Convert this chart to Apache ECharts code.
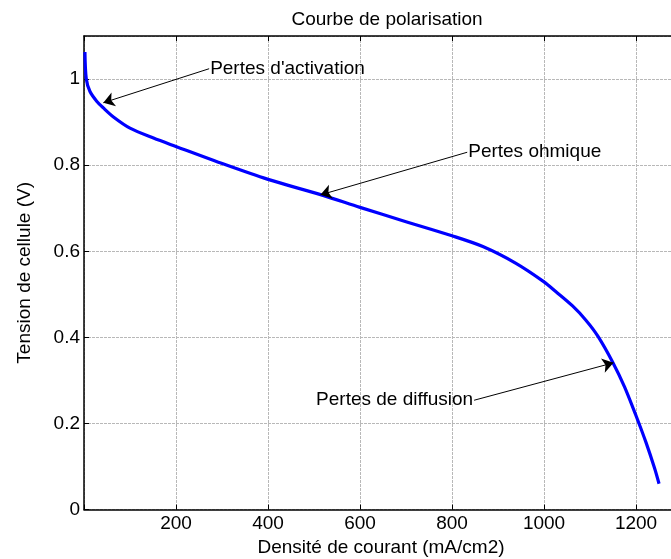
<!DOCTYPE html>
<html>
<head>
<meta charset="utf-8">
<script src="https://cdn.jsdelivr.net/npm/echarts@6/dist/echarts.min.js"></script>
<style>
  html, body { margin: 0; padding: 0; background: #fff; }
  #chart { width: 671px; height: 559px; }
</style>
</head>
<body>
<div id="chart"></div>
<script>
// Polarisation curve of a fuel cell: current density (mA/cm2) vs cell voltage (V)
var currentDensity = [2, 5, 13, 28, 42, 64, 100, 151, 201, 292, 400, 516, 600, 693, 800, 867, 939, 1000, 1026, 1062, 1091, 1117, 1149, 1175, 1200, 1222, 1240, 1250];
var cellVoltage = [1.063, 1.0, 0.971, 0.948, 0.933, 0.912, 0.886, 0.863, 0.843, 0.807, 0.767, 0.731, 0.702, 0.671, 0.636, 0.611, 0.572, 0.529, 0.506, 0.473, 0.440, 0.403, 0.343, 0.285, 0.218, 0.155, 0.097, 0.060];

// Loss-region annotations: text anchor and arrow tip, in data units
var noteLabels = ["Pertes d'activation", "Pertes ohmique", "Pertes de diffusion"];
var noteTextAt = [[272, 1.024], [833, 0.830], [848, 0.254]];
var noteTipAt = [[42, 0.945], [514, 0.731], [1151, 0.341]];
var noteAlign = ['left', 'left', 'right'];

var xMin = 0, xMax = 1276, xStep = 200;
var yMin = 0, yMax = 1.1, yStep = 0.2;

var FONT = 'Liberation Sans, Arial, sans-serif';
var FS = 19;

var points = currentDensity.map(function (j, i) { return [j, cellVoltage[i]]; });
var arrows = noteTextAt.map(function (p, i) {
  return [{ coord: p }, { coord: noteTipAt[i] }];
});

var chart = echarts.init(document.getElementById('chart'), null, { renderer: 'canvas' });

var gridLine = { show: true, lineStyle: { color: '#b8b8b8', width: 1, type: [3, 1] } };
var axisLineStyle = { show: true, onZero: false, lineStyle: { color: '#000', width: 1.5 } };
var tickStyle = { show: true, inside: true, length: 5, lineStyle: { color: '#000', width: 1 } };

chart.setOption({
  animation: false,
  backgroundColor: '#fff',
  title: {
    text: 'Courbe de polarisation',
    left: 382, top: 5, textAlign: 'center',
    textStyle: { fontFamily: FONT, fontSize: FS, fontWeight: 'normal', color: '#000' }
  },
  grid: { left: 84, top: 36, width: 588, height: 473.6, containLabel: false },
  xAxis: [{
    type: 'value', min: xMin, max: xMax, interval: xStep,
    axisLine: axisLineStyle, axisTick: tickStyle, splitLine: gridLine,
    axisLabel: {
      showMaxLabel: false, margin: 5, color: '#000', fontFamily: FONT, fontSize: FS,
      formatter: function (v) { return v === 0 ? '' : String(v); }
    }
  }, {
    type: 'value', position: 'top', min: xMin, max: xMax, interval: xStep,
    axisLine: axisLineStyle, axisTick: tickStyle, splitLine: { show: false },
    axisLabel: { show: false }
  }],
  yAxis: [{
    type: 'value', min: yMin, max: yMax, interval: yStep,
    name: 'Tension de cellule (V)', nameLocation: 'middle', nameGap: 50,
    nameTextStyle: { fontFamily: FONT, fontSize: FS, color: '#000' },
    axisLine: axisLineStyle, axisTick: tickStyle, splitLine: gridLine,
    axisLabel: {
      showMaxLabel: false, margin: 4, color: '#000', fontFamily: FONT, fontSize: FS,
      formatter: function (v) { return String(+v.toFixed(1)); }
    }
  }],
  series: [{
    type: 'line',
    data: points,
    showSymbol: false,
    smooth: 0.3,
    lineStyle: { color: '#0000ff', width: 3.2 },
    markLine: {
      silent: true,
      symbol: ['none', 'arrow'],
      symbolSize: 11,
      label: { show: false },
      lineStyle: { color: '#000', width: 1, type: 'solid' },
      emphasis: { disabled: true },
      data: arrows
    }
  }]
});

// Axis title and annotation texts placed from data coordinates
var graphics = [{
  type: 'text',
  x: 381, y: 548,
  style: { text: 'Densité de courant (mA/cm2)', font: FS + 'px ' + FONT, fill: '#000', textAlign: 'center', textVerticalAlign: 'middle' }
}];
noteLabels.forEach(function (label, i) {
  var p = chart.convertToPixel({ gridIndex: 0 }, noteTextAt[i]);
  graphics.push({
    type: 'text',
    x: p[0] + (noteAlign[i] === 'left' ? 1 : -1), y: p[1],
    style: { text: label, font: FS + 'px ' + FONT, fill: '#000', textAlign: noteAlign[i], textVerticalAlign: 'middle' }
  });
});
chart.setOption({ graphic: graphics });
</script>
</body>
</html>
